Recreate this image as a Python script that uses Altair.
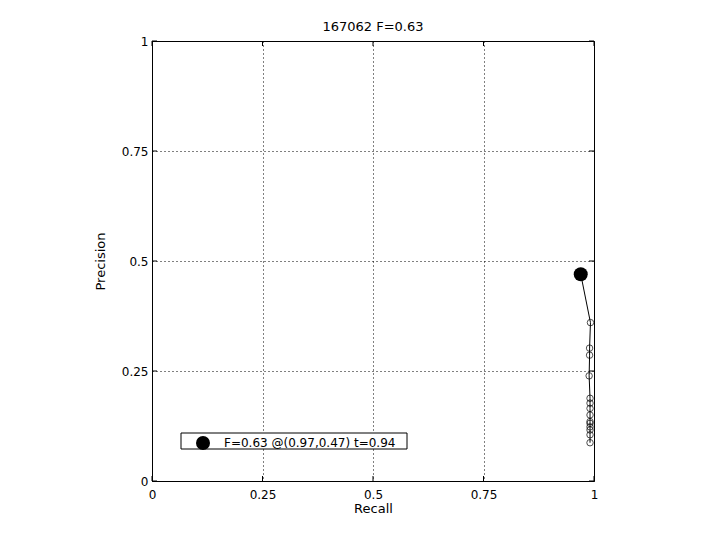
import altair as alt
import pandas as pd

# PR curve points (recall, precision), ordered by threshold
recall = [0.970, 0.992, 0.990, 0.990, 0.989, 0.991, 0.991, 0.991, 0.991, 0.991, 0.991, 0.991, 0.991, 0.991, 0.991]
precision = [0.470, 0.360, 0.302, 0.286, 0.239, 0.188, 0.177, 0.165, 0.150, 0.135, 0.131, 0.123, 0.116, 0.105, 0.087]

best_recall = [0.97]
best_precision = [0.47]
best_label = ["F=0.63 @(0.97,0.47) t=0.94"]

tick_values = [0, 0.25, 0.5, 0.75, 1]

title_text = "167062 F=0.63"

W, H = 442, 440
FONT = "DejaVu Sans"

curve = pd.DataFrame({"recall": recall, "precision": precision, "order": list(range(len(recall)))})
best = pd.DataFrame({"recall": best_recall, "precision": best_precision, "label": best_label})
ticks = pd.DataFrame({"v": tick_values})
box = pd.DataFrame({"k": [0]})

label_expr = "datum.value == 0 ? '0' : datum.value == 1 ? '1' : format(datum.value, '.2~f')"

xscale = alt.Scale(domain=[0, 1], nice=False)
yscale = alt.Scale(domain=[0, 1], nice=False)

xaxis = alt.Axis(values=tick_values, labelExpr=label_expr, grid=True, gridDash=[1, 3],
                 gridColor="black", gridOpacity=1, tickSize=0, labelPadding=8, labelFlush=False,
                 domainColor="black", labelColor="black", titleColor="black",
                 labelFont=FONT, titleFont=FONT, labelFontSize=12, titleFontSize=13,
                 titleFontWeight="normal", titlePadding=2)
yaxis = alt.Axis(values=tick_values, labelExpr=label_expr, grid=True, gridDash=[1, 3],
                 gridColor="black", gridOpacity=1, tickSize=0, labelPadding=4, labelFlush=False,
                 domainColor="black", labelColor="black", titleColor="black",
                 labelFont=FONT, titleFont=FONT, labelFontSize=12, titleFontSize=13,
                 titleFontWeight="normal", titlePadding=14)

base_line = alt.Chart(curve).mark_line(color="black", strokeWidth=1).encode(
    x=alt.X("recall:Q", scale=xscale, axis=xaxis, title="Recall"),
    y=alt.Y("precision:Q", scale=yscale, axis=yaxis, title="Precision"),
    order="order:Q",
)
pts = alt.Chart(curve).mark_point(shape="circle", color="black", filled=False, size=42, strokeWidth=1).encode(
    x="recall:Q", y="precision:Q"
)

legend_box = alt.Chart(box).mark_rect(fill="white", stroke="black", strokeWidth=1).encode(
    x=alt.value(29), x2=alt.value(255), y=alt.value(392), y2=alt.value(408)
)

bestpt = alt.Chart(best).mark_point(shape="circle", filled=True, size=196, opacity=1).encode(
    x="recall:Q", y="precision:Q",
    color=alt.Color("label:N", scale=alt.Scale(range=["black"]),
                    legend=alt.Legend(title=None, orient="none", legendX=43, legendY=394,
                                      padding=0, symbolOffset=0,
                                      symbolSize=196, symbolType="circle", labelFontSize=12,
                                      labelFont=FONT, labelColor="black", labelOffset=13,
                                      labelLimit=400)),
)

tb = alt.Chart(ticks).mark_rule(color="black").encode(x=alt.X("v:Q", scale=xscale), y=alt.value(H), y2=alt.value(H - 5))
tt = alt.Chart(ticks).mark_rule(color="black").encode(x=alt.X("v:Q", scale=xscale), y=alt.value(0), y2=alt.value(5))
tl = alt.Chart(ticks).mark_rule(color="black").encode(y=alt.Y("v:Q", scale=yscale), x=alt.value(0), x2=alt.value(5))
tr = alt.Chart(ticks).mark_rule(color="black").encode(y=alt.Y("v:Q", scale=yscale), x=alt.value(W), x2=alt.value(W - 5))

chart = alt.layer(legend_box, base_line, pts, bestpt, tb, tt, tl, tr).properties(
    width=W, height=H,
    autosize="none",
    padding={"left": 144, "top": 33, "right": 110, "bottom": 50},
    title=alt.TitleParams(title_text, font=FONT, fontSize=13, fontWeight="normal", color="black",
                          offset=1, frame="group"),
    background="white",
).configure_view(stroke="black", strokeWidth=1)

chart.save("out.html", embed_options={"renderer": "svg", "actions": False})
